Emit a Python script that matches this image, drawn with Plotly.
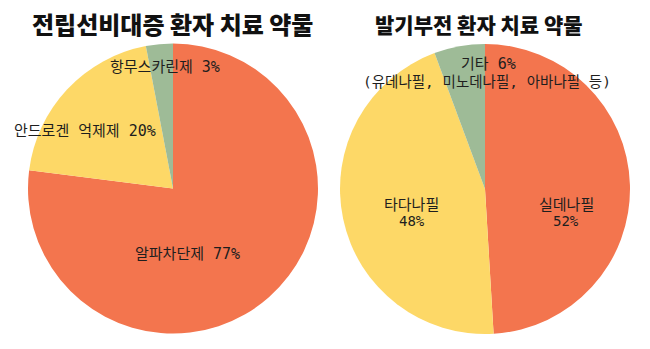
import plotly.graph_objects as go

W, H = 650, 349

# Benign prostatic hyperplasia (전립선비대증) treatment share
bph_drugs = ["알파차단제", "안드로겐 억제제", "항무스카린제"]
bph_share = [77, 20, 3]

# Erectile dysfunction (발기부전) treatment share
ed_drugs = ["실데나필", "타다나필", "기타"]
ed_share = [52, 48, 6]
ed_other_note = "(유데나필, 미노데나필, 아바나필 등)"

titles = ["전립선비대증 환자 치료 약물", "발기부전 환자 치료 약물"]

ORANGE = "rgb(243,117,78)"
YELLOW = "rgb(253,216,103)"
GREEN = "rgb(158,187,151)"
colors = [ORANGE, YELLOW, GREEN]

# monospace latin glyphs with CJK fallback for Hangul
LABEL_FONT = "DejaVu Sans Mono, Noto Sans CJK KR, sans-serif"
TITLE_FONT = "Noto Sans CJK KR, sans-serif"


def px_domain(cx, cy, r):
    return dict(x=[(cx - r) / W, (cx + r) / W],
                y=[(H - (cy + r)) / H, (H - (cy - r)) / H])


def ann(text, x, y, size=15, color="#1e1e1e", family=LABEL_FONT, weight="normal"):
    return dict(text=text, x=x / W, y=(H - y) / H, xref="paper", yref="paper",
                showarrow=False, xanchor="center", yanchor="middle",
                font=dict(size=size, color=color, family=family, weight=weight))


fig = go.Figure()
fig.add_trace(go.Pie(labels=bph_drugs, values=bph_share, sort=False,
                     direction="clockwise", rotation=0,
                     marker=dict(colors=colors, line=dict(width=0)),
                     textinfo="none", showlegend=False,
                     domain=px_domain(173, 188.5, 145)))
fig.add_trace(go.Pie(labels=ed_drugs, values=ed_share, sort=False,
                     direction="clockwise", rotation=0,
                     marker=dict(colors=colors, line=dict(width=0)),
                     textinfo="none", showlegend=False,
                     domain=px_domain(485, 189, 145)))

annotations = [
    ann(titles[0], 173, 24, size=24, color="#111", family=TITLE_FONT, weight=900),
    ann(titles[1], 479, 24, size=21, color="#111", family=TITLE_FONT, weight=900),
    ann(f"{bph_drugs[2]} {bph_share[2]}%", 164.5, 67.5),
    ann(f"{bph_drugs[1]} {bph_share[1]}%", 84.5, 131),
    ann(f"{bph_drugs[0]} {bph_share[0]}%", 187, 253.5),
    ann(f"{ed_drugs[2]} {ed_share[2]}%", 488, 64),
    ann(ed_other_note, 487, 82, size=14.5),
    ann(ed_drugs[1], 411, 205),
    ann(f"{ed_share[1]}%", 411.5, 221.5, size=14),
    ann(ed_drugs[0], 566, 205),
    ann(f"{ed_share[0]}%", 565.5, 221.5, size=14),
]

fig.update_layout(width=W, height=H, margin=dict(l=0, r=0, t=0, b=0),
                  paper_bgcolor="white", plot_bgcolor="white",
                  annotations=annotations)

fig.write_html("out.html", config={"displayModeBar": False})
